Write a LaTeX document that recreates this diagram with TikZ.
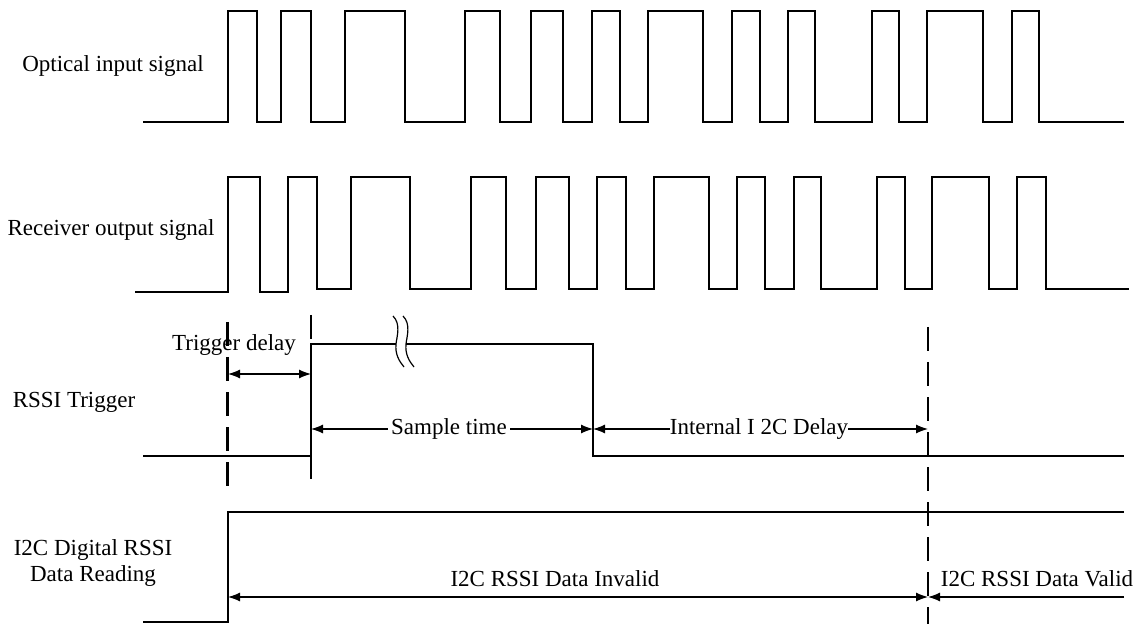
\documentclass[tikz,border=0pt]{standalone}
\usepackage{fontspec}
\setmainfont{Liberation Serif}
\usetikzlibrary{arrows.meta}
\begin{document}
\begin{tikzpicture}[x=0.5pt,y=-0.5pt,
  sig/.style={line width=0.7pt, line join=miter},
  vdash/.style={line width=1.4pt, dash pattern=on 12pt off 5.5pt},
  dimline/.style={line width=0.6pt, {Latex[length=6pt,width=4.5pt]}-{Latex[length=6pt,width=4.5pt]}},
  oneway/.style={line width=0.6pt, -{Latex[length=6pt,width=4.5pt]}},
  lbl/.style={font=\fontsize{11.5}{13.4}\selectfont, inner sep=1pt},
  gaplbl/.style={lbl, fill=white, inner xsep=1.5pt, inner ysep=0.5pt}]
\useasboundingbox (0,0) rectangle (1143,624);

% labels on the left
\node[lbl] (lopt) at (113,66) {Optical input signal};
\node[lbl] (lrec) at (111,230) {Receiver output signal};
\node[lbl] (ltrig) at (74,402) {RSSI Trigger};
\node[lbl, align=center, font=\fontsize{11.5}{13.35}\selectfont] (li2c) at (93,563) {I2C Digital RSSI\\Data Reading};

% optical input signal
\draw[sig] (143,122) -| (228,11) -| (257,122) -| (281,11) -| (311,122) -| (345,11) -| (405,122)
  -| (465,11) -| (500,122) -| (531,11) -| (563,122) -| (592,11) -| (620,122) -| (648,11)
  -| (703,122) -| (732,11) -| (760,122) -| (788,11) -| (815,122) -| (872,11) -| (899,122)
  -| (927,11) -| (983,122) -| (1012,11) -| (1039,122) -- (1124,122);

% receiver output signal
\draw[sig] (135,292) -| (228,177) -| (260,292) -| (288,177) -| (317,289) -| (351,177) -| (410,289)
  -| (471,177) -| (506,289) -| (536,177) -| (569,289) -| (597,177) -| (626,289) -| (654,177)
  -| (709,289) -| (737,177) -| (765,289) -| (794,177) -| (821,289) -| (877,177) -| (905,289)
  -| (932,177) -| (989,289) -| (1017,177) -| (1046,289) -- (1129,289);

% RSSI trigger
\draw[sig] (143,456) -| (311,344) -- (396,344);
\draw[sig] (406,344) -| (593,456) -- (1124,456);
% break mark
\draw[line width=0.6pt] (393,316) .. controls (401,324) and (397,336) .. (396,344)
  .. controls (395,354) and (399,361) .. (404,367);
\draw[line width=0.6pt] (403,316) .. controls (411,324) and (407,336) .. (406,344)
  .. controls (405,354) and (409,361) .. (414,367);

% I2C digital RSSI
\draw[sig] (143,622) -| (228,512) -- (1124,512);

% dashed markers
\coordinate (d1t) at (227.5,322); \coordinate (d1b) at (227.5,486);
\coordinate (d2t) at (311,315);   \coordinate (d2b) at (311,484);
\coordinate (d3t) at (928,327);   \coordinate (d3b) at (928,624);
\draw[vdash] (d1t) -- (d1b);
\draw[vdash] (d2t) -- (d2b);
\draw[vdash] (d3t) -- (d3b);

% dimension arrows
\coordinate (td1) at (228,374); \coordinate (td2) at (311,374);
\draw[dimline] (td1) -- (td2);
\node[lbl] (ltd) at (234,345) {Trigger delay};

\coordinate (st1) at (311,429); \coordinate (st2) at (593,429); \coordinate (st3) at (928,429);
\draw[dimline] (st1) -- (st2);
\node[gaplbl] (lst) at (449,429) {Sample time};
\draw[dimline] (st2) -- (st3);
\node[gaplbl, inner xsep=0pt] (lid) at (759,429) {Internal I 2C Delay};

\coordinate (iv1) at (228,597); \coordinate (iv2) at (928,597); \coordinate (iv3) at (1124,597);
\draw[dimline] (iv1) -- (iv2);
\draw[oneway] (iv3) -- (iv2);
\node[lbl] (linv) at (555,579) {I2C RSSI Data Invalid};
\node[lbl] (lval) at (1037,579) {I2C RSSI Data Valid};
\end{tikzpicture}
\end{document}
